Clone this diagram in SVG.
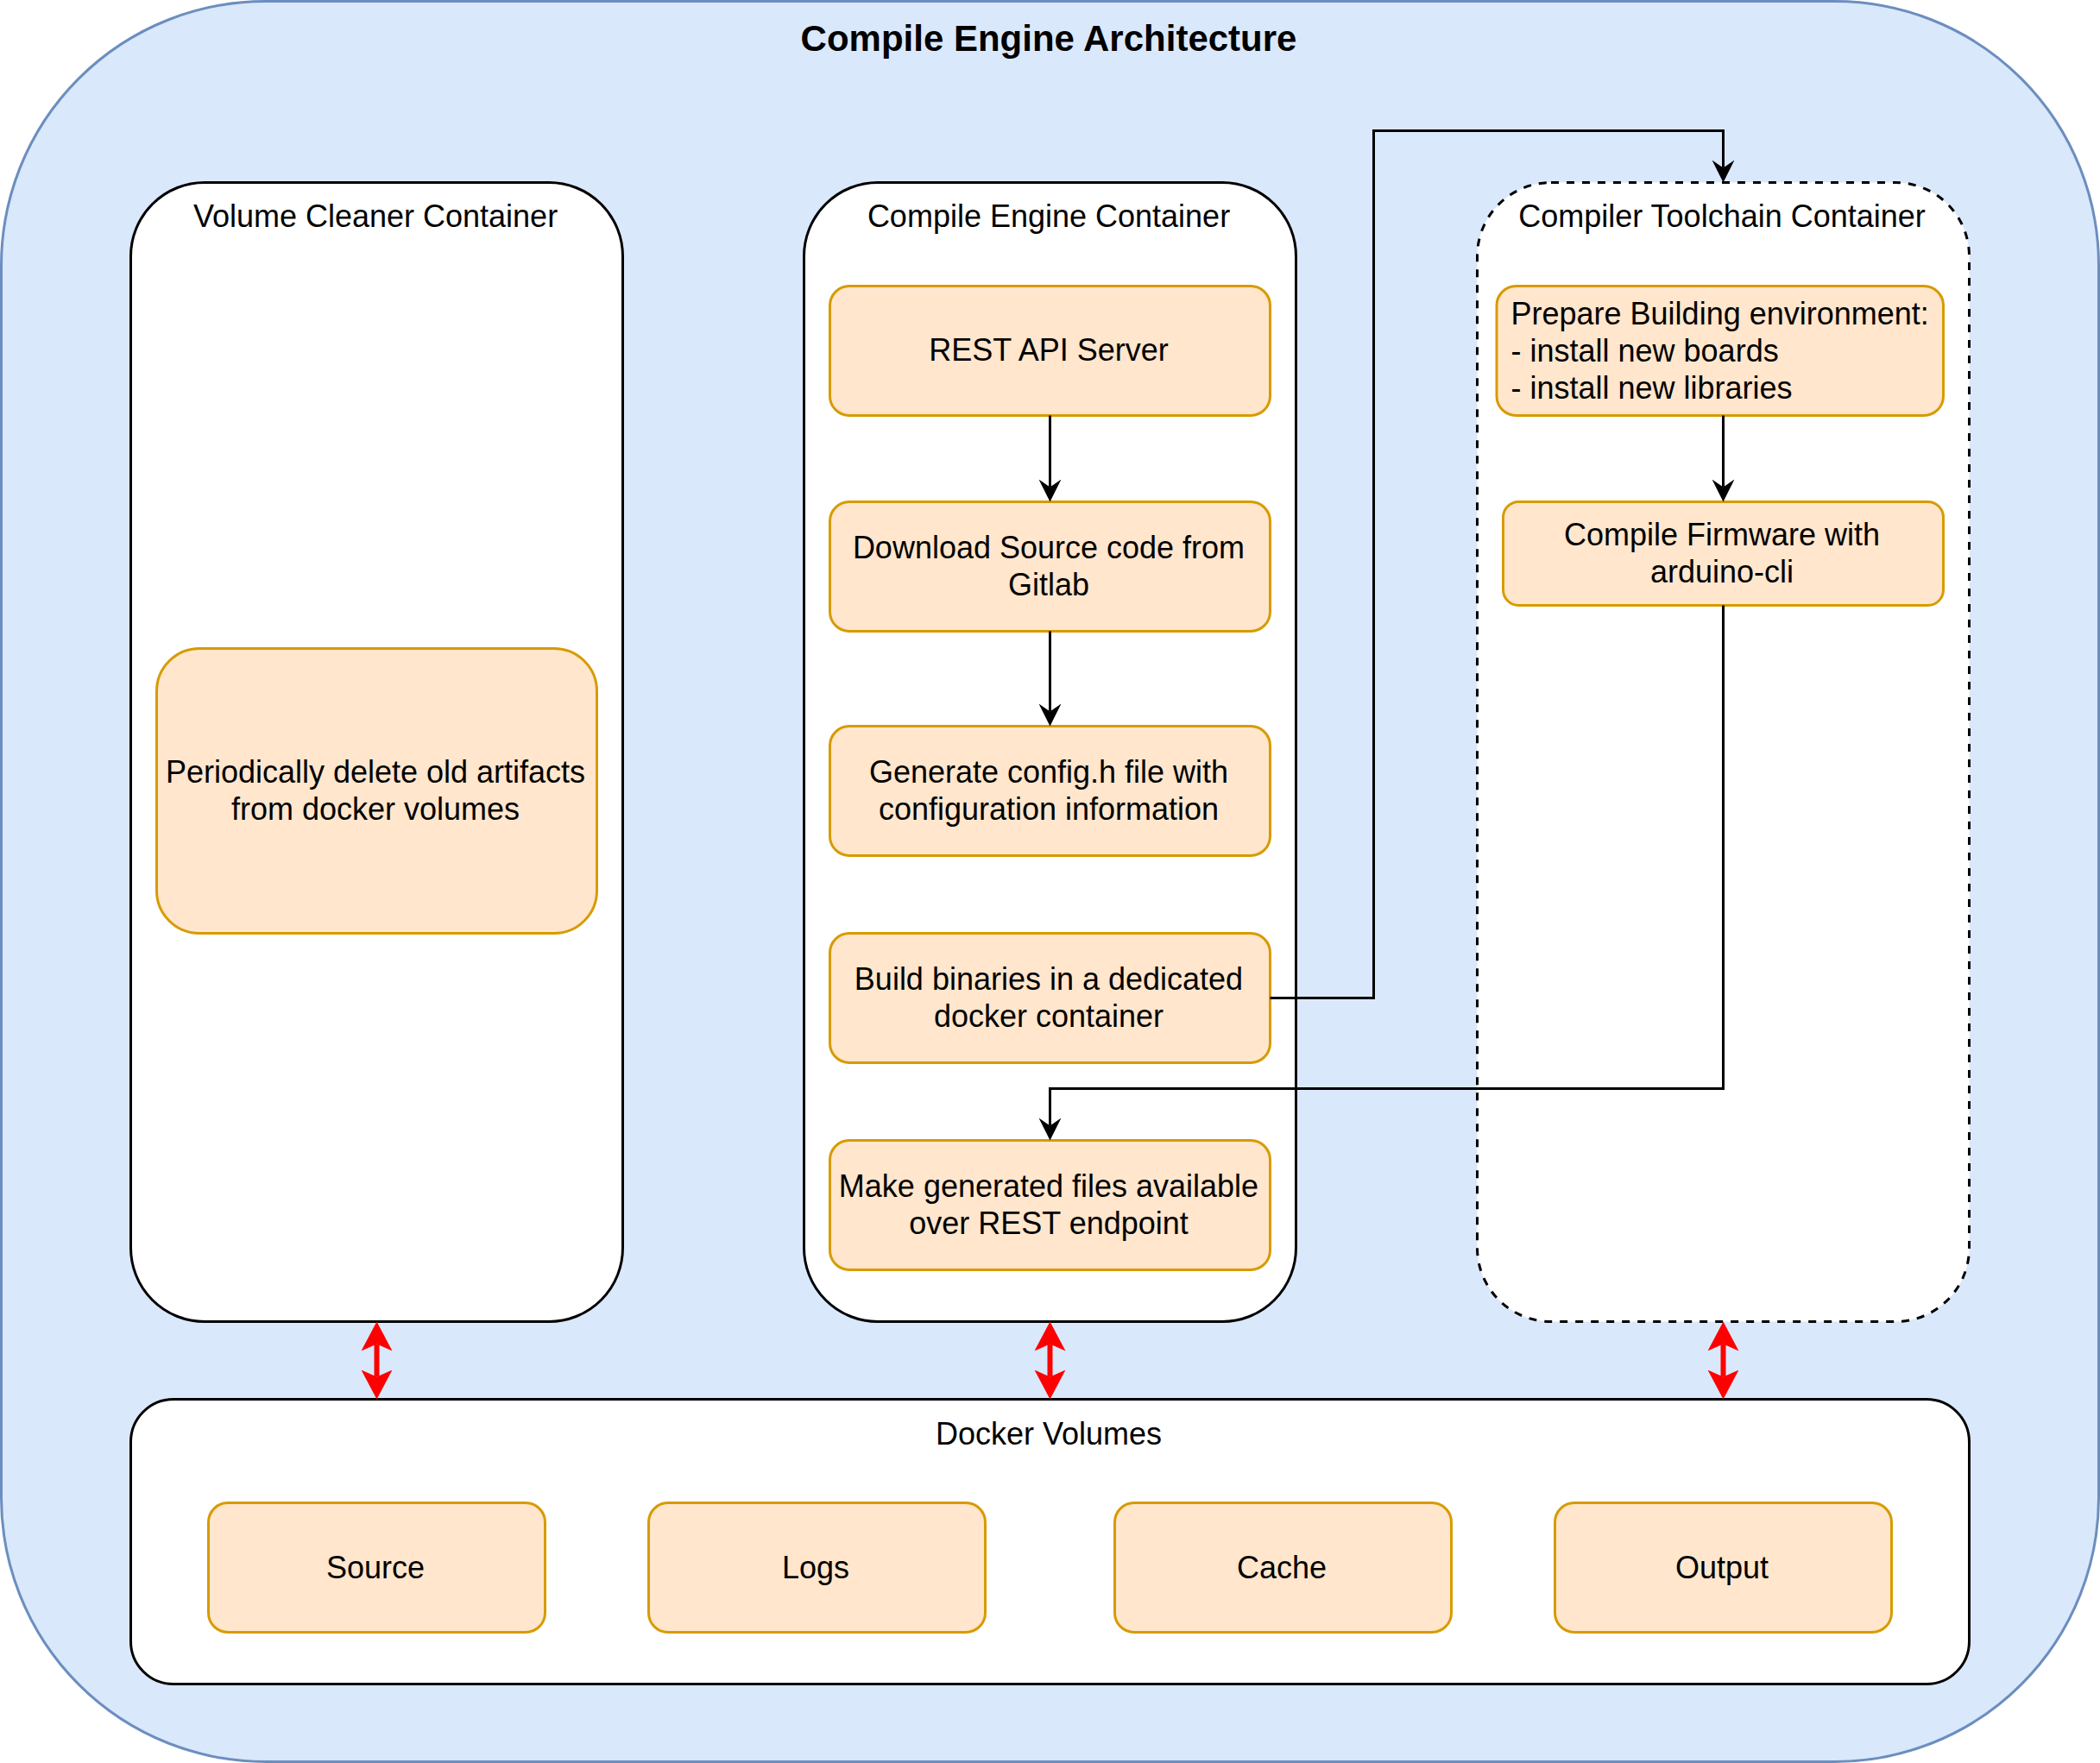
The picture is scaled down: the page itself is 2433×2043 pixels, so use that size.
<svg xmlns="http://www.w3.org/2000/svg" width="2433" height="2043" viewBox="0 0 2433 2043">
<defs>
<style>
.outer{fill:#dae8fc;stroke:#6c8ebf;stroke-width:3}
.cont{fill:#ffffff;stroke:#000000;stroke-width:3}
.dash{stroke-dasharray:9 9}
.step{fill:#ffe6cc;stroke:#d79b00;stroke-width:3}
text{font-family:"Liberation Sans",Arial,sans-serif;font-size:36px;fill:#000000}
.c{text-anchor:middle}
.title{font-size:42px;font-weight:bold}
.flow{fill:none;stroke:#000000;stroke-width:3}
.vol{fill:none;stroke:#ff0000;stroke-width:6}
</style>
<marker id="ah" markerUnits="userSpaceOnUse" markerWidth="30" markerHeight="30" refX="9" refY="13" orient="auto">
<path d="M0,0 L26,13 L0,26 L9,13 Z" fill="#000000"/>
</marker>
<marker id="rh" markerUnits="userSpaceOnUse" markerWidth="40" markerHeight="40" refX="8" refY="18" orient="auto-start-reverse">
<path d="M0,0 L34,18 L0,36 L8,18 Z" fill="#ff0000"/>
</marker>
</defs>

<g id="architecture">
<rect class="outer" x="1.5" y="1.5" width="2430" height="2040" rx="306" ry="306"/>
<text class="c title" x="1215" y="58.5">Compile Engine Architecture</text>
</g>

<g id="volume-cleaner-container">
<rect class="cont" x="151.5" y="211.5" width="570" height="1320" rx="85.5" ry="85.5"/>
<text class="c" x="435" y="262.5">Volume Cleaner Container</text>
</g>
<g id="cleanup">
<rect class="step" x="181.5" y="751.5" width="510" height="330" rx="49.5" ry="49.5"/>
<text class="c" x="435" y="906.5">Periodically delete old artifacts</text>
<text class="c" x="435" y="949.5">from docker volumes</text>
</g>

<g id="compile-engine-container">
<rect class="cont" x="931.5" y="211.5" width="570" height="1320" rx="85.5" ry="85.5"/>
<text class="c" x="1215" y="262.5">Compile Engine Container</text>
</g>
<g id="rest-api">
<rect class="step" x="961.5" y="331.5" width="510" height="150" rx="22.5" ry="22.5"/>
<text class="c" x="1215" y="417.5">REST API Server</text>
</g>
<g id="download">
<rect class="step" x="961.5" y="581.5" width="510" height="150" rx="22.5" ry="22.5"/>
<text class="c" x="1215" y="646.5">Download Source code from</text>
<text class="c" x="1215" y="689.5">Gitlab</text>
</g>
<g id="generate-config">
<rect class="step" x="961.5" y="841.5" width="510" height="150" rx="22.5" ry="22.5"/>
<text class="c" x="1215" y="906.5">Generate config.h file with</text>
<text class="c" x="1215" y="949.5">configuration information</text>
</g>
<g id="build-binaries">
<rect class="step" x="961.5" y="1081.5" width="510" height="150" rx="22.5" ry="22.5"/>
<text class="c" x="1215" y="1146.5">Build binaries in a dedicated</text>
<text class="c" x="1215" y="1189.5">docker container</text>
</g>
<g id="make-available">
<rect class="step" x="961.5" y="1321.5" width="510" height="150" rx="22.5" ry="22.5"/>
<text class="c" x="1215" y="1386.5">Make generated files available</text>
<text class="c" x="1215" y="1429.5">over REST endpoint</text>
</g>

<g id="compiler-toolchain-container">
<rect class="cont dash" x="1711.5" y="211.5" width="570" height="1320" rx="85.5" ry="85.5"/>
<text class="c" x="1995" y="262.5">Compiler Toolchain Container</text>
</g>
<g id="prepare-env">
<rect class="step" x="1734" y="331.5" width="517.5" height="150" rx="22.5" ry="22.5"/>
<text x="1750.5" y="375.5">Prepare Building environment:</text>
<text x="1750.5" y="418.5">- install new boards</text>
<text x="1750.5" y="461.5">- install new libraries</text>
</g>
<g id="compile-firmware">
<rect class="step" x="1741.5" y="581.5" width="510" height="120" rx="18" ry="18"/>
<text class="c" x="1995" y="631.5">Compile Firmware with</text>
<text class="c" x="1995" y="674.5">arduino-cli</text>
</g>

<g id="docker-volumes">
<rect class="cont" x="151.5" y="1621.5" width="2130" height="330" rx="49.5" ry="49.5"/>
<text class="c" x="1215" y="1673.5">Docker Volumes</text>
</g>
<g id="vol-source">
<rect class="step" x="241.5" y="1741.5" width="390" height="150" rx="22.5" ry="22.5"/>
<text class="c" x="435" y="1828.5">Source</text>
</g>
<g id="vol-logs">
<rect class="step" x="751.5" y="1741.5" width="390" height="150" rx="22.5" ry="22.5"/>
<text class="c" x="945" y="1828.5">Logs</text>
</g>
<g id="vol-cache">
<rect class="step" x="1291.5" y="1741.5" width="390" height="150" rx="22.5" ry="22.5"/>
<text class="c" x="1485" y="1828.5">Cache</text>
</g>
<g id="vol-output">
<rect class="step" x="1801.5" y="1741.5" width="390" height="150" rx="22.5" ry="22.5"/>
<text class="c" x="1995" y="1828.5">Output</text>
</g>

<g id="connectors">
<path class="flow" d="M1216.5 481.5 V564.5" marker-end="url(#ah)"/>
<path class="flow" d="M1216.5 731.5 V824.5" marker-end="url(#ah)"/>
<path class="flow" d="M1996.5 481.5 V564.5" marker-end="url(#ah)"/>
<path class="flow" d="M1471.5 1156.5 H1591.5 V151.5 H1996.5 V194.5" marker-end="url(#ah)"/>
<path class="flow" d="M1996.5 701.5 V1261.5 H1216.5 V1304.5" marker-end="url(#ah)"/>
<path class="vol" d="M436.5 1557.5 V1595.5" marker-start="url(#rh)" marker-end="url(#rh)"/>
<path class="vol" d="M1216.5 1557.5 V1595.5" marker-start="url(#rh)" marker-end="url(#rh)"/>
<path class="vol" d="M1996.5 1557.5 V1595.5" marker-start="url(#rh)" marker-end="url(#rh)"/>
</g>
</svg>
